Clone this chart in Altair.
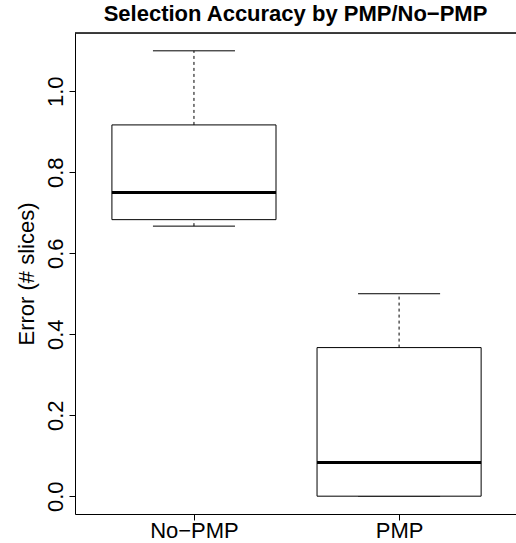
import json
import altair as alt
import pandas as pd

# ---- data ----
groups = ["No−PMP", "PMP"]
whisker_low = [0.667, 0.0]
q1 = [0.683, 0.0]
median = [0.75, 0.083]
q3 = [0.917, 0.367]
whisker_high = [1.1, 0.5]
y_ticks = [0.0, 0.2, 0.4, 0.6, 0.8, 1.0]

TITLE = "Selection Accuracy by PMP/No−PMP"
Y_TITLE = "Error (# slices)"
FONT = "Liberation Sans"

# ---- layout / style constants ----
BOX_HALF = 0.4
CAP_HALF = 0.2
W, H = 441, 481

pos = list(range(1, len(groups) + 1))
df = pd.DataFrame({
    "group": groups, "pos": pos,
    "lo": whisker_low, "q1": q1, "med": median, "q3": q3, "hi": whisker_high,
})
df["bx0"] = df["pos"] - BOX_HALF
df["bx1"] = df["pos"] + BOX_HALF
df["cx0"] = df["pos"] - CAP_HALF
df["cx1"] = df["pos"] + CAP_HALF

xs = alt.Scale(domain=[0.42, 2.57], nice=False, zero=False)
ys = alt.Scale(domain=[-0.044, 1.144], nice=False, zero=False)

label_expr = json.dumps(groups, ensure_ascii=False) + "[datum.value - 1]"

x_axis = alt.Axis(values=pos, labelExpr=label_expr, title=None, grid=False,
                  tickSize=6, labelFontSize=22, labelFont=FONT, labelColor="black",
                  labelBaseline="alphabetic", labelPadding=17, domainColor="black",
                  tickColor="black", labelAngle=0, labelAlign="center")
y_axis = alt.Axis(values=y_ticks, format=".1f", grid=False, tickSize=6,
                  labelAngle=-90, labelAlign="center", labelBaseline="alphabetic",
                  labelPadding=7, labelFontSize=22, labelFont=FONT, labelColor="black",
                  domainColor="black", tickColor="black",
                  title=Y_TITLE, titleFontSize=22, titleFont=FONT, titleFontWeight="normal",
                  titleColor="black", titleAngle=-90, titleX=-42, titleY=H / 2,
                  titleAlign="center", titleBaseline="alphabetic")


def X(field):
    return alt.X(field, type="quantitative", scale=xs, axis=x_axis)


def Y(field):
    return alt.Y(field, type="quantitative", scale=ys, axis=y_axis)


base = alt.Chart(df)

box = base.mark_rect(fill="white", stroke="black", strokeWidth=1).encode(
    x=X("bx0"), x2="bx1", y=Y("q1"), y2="q3",
)
med = base.mark_rule(color="black", strokeWidth=3).encode(
    x=X("bx0"), x2="bx1", y=Y("med"),
)
whisk_up = base.mark_rule(color="black", strokeWidth=1, strokeDash=[3, 3]).encode(
    x=X("pos"), y=Y("q3"), y2="hi",
)
whisk_dn = base.mark_rule(color="black", strokeWidth=1, strokeDash=[3, 3]).encode(
    x=X("pos"), y=Y("lo"), y2="q1",
)
cap_up = base.mark_rule(color="black", strokeWidth=1).encode(
    x=X("cx0"), x2="cx1", y=Y("hi"),
)
cap_dn = base.mark_rule(color="black", strokeWidth=1).encode(
    x=X("cx0"), x2="cx1", y=Y("lo"),
)
top_frame = alt.Chart(df).mark_rule(color="black", strokeWidth=1).encode(
    x=alt.value(0), x2=alt.value(W), y=alt.value(0)
)

chart = alt.layer(whisk_up, whisk_dn, cap_up, cap_dn, box, med, top_frame).properties(
    width=W, height=H,
    title=alt.TitleParams(TITLE, fontSize=22, fontWeight="bold", font=FONT,
                          anchor="middle", color="black", offset=7),
    autosize=alt.AutoSizeParams(type="none"),
    padding={"left": 75, "top": 33, "right": 0, "bottom": 29},
).configure_view(strokeWidth=0).configure(background="white")

chart.save("out.html", embed_options={"renderer": "svg", "actions": False})
